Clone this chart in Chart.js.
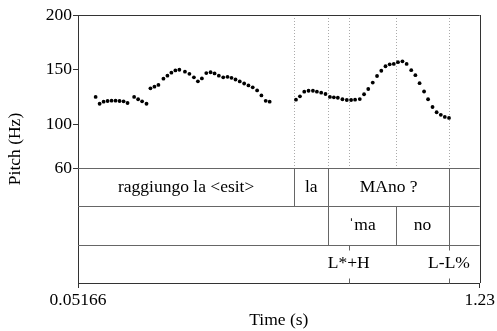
<!DOCTYPE html>
<html>
<head>
<meta charset="utf-8">
<script src="https://cdn.jsdelivr.net/npm/chart.js@4.4.0/dist/chart.umd.min.js"></script>
<style>
  html, body { margin: 0; padding: 0; background: #fff; }
</style>
</head>
<body>
<canvas id="pitchChart" width="497" height="331"></canvas>
<script>
// axes
const timeRange = [0.05166, 1.23];
const timeTicks = [0.05166, 1.23];
const timeTickLabels = ['0.05166', '1.23'];
const pitchRange = [60, 200];
const pitchTicks = [60, 100, 150, 200];

// pitch track (s, Hz)
const pitchTimes = [
  0.1034, 0.1151, 0.1268, 0.1385, 0.1502, 0.1619, 0.1736, 0.1853, 0.1970,
  0.2163, 0.2280, 0.2397, 0.2526, 0.2642, 0.2759, 0.2876, 0.3023, 0.3140,
  0.3256, 0.3373, 0.3490, 0.3654, 0.3785, 0.3917, 0.4034, 0.4151, 0.4280,
  0.4406, 0.4523, 0.4648, 0.4777, 0.4903, 0.5020, 0.5137, 0.5262, 0.5391,
  0.5517, 0.5642, 0.5771, 0.5897, 0.6022, 0.6139,
  0.6911, 0.7028, 0.7154, 0.7280, 0.7408, 0.7525, 0.7651, 0.7777, 0.7906,
  0.8022, 0.8139, 0.8274, 0.8402, 0.8528, 0.8645, 0.8783, 0.8908, 0.9031,
  0.9163, 0.9289, 0.9414, 0.9537, 0.9660, 0.9780, 0.9903, 1.0034, 1.0157,
  1.0292, 1.0414, 1.0537, 1.0669, 1.0786, 1.0917, 1.1037, 1.1160, 1.1277,
  1.1400
];
const pitchHz = [
  125.0, 118.8, 120.7, 121.3, 121.6, 121.6, 121.3, 121.0, 119.5,
  125.0, 122.9, 121.0, 118.8, 132.9, 134.4, 136.0, 141.7, 144.5,
  147.2, 149.3, 149.9, 148.1, 146.2, 143.0, 139.3, 142.0, 146.9,
  147.6, 146.5, 144.5, 143.0, 143.4, 142.5, 141.0, 139.2, 137.3,
  135.6, 133.8, 131.0, 126.4, 121.5, 120.7,
  122.5, 125.6, 129.8, 130.7, 130.7, 129.8, 128.9, 127.7, 125.0,
  124.7, 124.3, 122.9, 122.2, 122.2, 122.5, 123.1, 127.5, 132.3,
  138.2, 144.2, 149.0, 153.1, 154.9, 155.2, 156.8, 157.6, 155.2,
  149.5, 144.9, 137.6, 130.0, 122.9, 115.8, 111.0, 108.7, 106.7,
  105.8
];

// text grid tiers
const wordBounds = [0.05166, 0.686, 0.786, 1.140, 1.23];
const wordLabels = ['raggiungo la <esit>', 'la', 'MAno ?', ''];
const syllBounds = [0.05166, 0.786, 0.984, 1.140, 1.23];
const syllLabels = ['', 'ˈma', 'no', ''];
const toneTimes = [0.846, 1.140];
const toneLabels = ['L*+H', 'L-L%'];

const FONT = 'Liberation Serif, Times New Roman, serif';
const fontSpec = { family: FONT, size: 17.5 };

function hline(ctx, x1, x2, y) {
  ctx.beginPath(); ctx.moveTo(x1, y); ctx.lineTo(x2, y); ctx.stroke();
}
function vline(ctx, x, y1, y2) {
  ctx.beginPath(); ctx.moveTo(x, y1); ctx.lineTo(x, y2); ctx.stroke();
}

const tierPlugin = {
  id: 'tiers',
  beforeDatasetsDraw(chart) {
    const { ctx, chartArea: a, scales } = chart;
    const x = scales.x, y = scales.y, tier = scales.tier;
    const px = t => Math.round(x.getPixelForValue(t)) + 0.5;
    const py = v => Math.round(tier.getPixelForValue(v)) + 0.5;
    ctx.save();

    // dotted boundary marks in the pitch area
    const marks = [...new Set([...wordBounds.slice(1, -1), ...syllBounds.slice(1, -1), ...toneTimes])];
    ctx.strokeStyle = '#aaa';
    ctx.lineWidth = 1;
    ctx.setLineDash([1, 2]);
    marks.forEach(t => vline(ctx, px(t), a.top, y.bottom));
    ctx.setLineDash([]);

    // tier separators
    ctx.strokeStyle = '#666';
    [0, 1, 2].forEach(v => hline(ctx, a.left, a.right, py(v)));

    // interval boundaries
    wordBounds.slice(1, -1).forEach(t => vline(ctx, px(t), py(0), py(1)));
    syllBounds.slice(1, -1).forEach(t => vline(ctx, px(t), py(1), py(2)));
    // point tier ticks
    toneTimes.forEach(t => {
      vline(ctx, px(t), py(2), py(2) + 5);
      vline(ctx, px(t), py(3) - 5, py(3));
    });

    // labels
    ctx.fillStyle = '#000';
    ctx.font = `${fontSpec.size}px ${FONT}`;
    ctx.textAlign = 'center';
    ctx.textBaseline = 'middle';
    const mid = (b, i) => x.getPixelForValue((b[i] + b[i + 1]) / 2);
    wordLabels.forEach((s, i) => s && ctx.fillText(s, mid(wordBounds, i), tier.getPixelForValue(0.5)));
    syllLabels.forEach((s, i) => s && ctx.fillText(s, mid(syllBounds, i), tier.getPixelForValue(1.5)));
    toneLabels.forEach((s, i) => ctx.fillText(s, x.getPixelForValue(toneTimes[i]), tier.getPixelForValue(2.5)));
    ctx.restore();
  },
  afterDraw(chart) {
    const { ctx, chartArea: a } = chart;
    ctx.save();
    // top and right frame
    ctx.strokeStyle = '#333';
    ctx.lineWidth = 1;
    hline(ctx, a.left, a.right, Math.round(a.top) + 0.5);
    vline(ctx, Math.round(a.right) + 0.5, a.top, a.bottom);
    // y title over the whole height
    ctx.fillStyle = '#000';
    ctx.font = `${fontSpec.size}px ${FONT}`;
    ctx.textAlign = 'center';
    ctx.textBaseline = 'middle';
    ctx.translate(15, (a.top + a.bottom) / 2);
    ctx.rotate(-Math.PI / 2);
    ctx.fillText('Pitch (Hz)', 0, 0);
    ctx.restore();
  }
};

const ctx = document.getElementById('pitchChart').getContext('2d');
const pitchChart = new Chart(ctx, {
  type: 'scatter',
  data: {
    datasets: [{
      label: 'Pitch',
      data: pitchTimes.map((t, i) => ({ x: t, y: pitchHz[i] })),
      backgroundColor: '#000',
      borderColor: '#000',
      pointRadius: 1.9,
      pointBorderWidth: 0,
      xAxisID: 'x',
      yAxisID: 'y'
    }]
  },
  options: {
    responsive: false,
    animation: false,
    layout: { padding: { top: 15, right: 16, left: 0, bottom: 0 } },
    plugins: { legend: { display: false }, tooltip: { enabled: false } },
    scales: {
      x: {
        type: 'linear',
        position: 'bottom',
        min: timeRange[0],
        max: timeRange[1],
        afterBuildTicks: s => { s.ticks = timeTicks.map(v => ({ value: v })); },
        afterFit: s => { s.height = 48; },
        ticks: {
          callback: (v, i) => timeTickLabels[i],
          autoSkip: false,
          maxRotation: 0,
          color: '#000',
          padding: 2,
          font: fontSpec
        },
        grid: { drawOnChartArea: false, tickLength: 5, color: '#333' },
        border: { color: '#333' },
        title: { display: true, text: 'Time (s)', color: '#000', font: fontSpec, padding: { top: 0, bottom: 0 } }
      },
      y: {
        type: 'linear',
        position: 'left',
        stack: 'v',
        stackWeight: 153,
        weight: 1,
        min: pitchRange[0],
        max: pitchRange[1],
        afterBuildTicks: s => { s.ticks = pitchTicks.map(v => ({ value: v })); },
        afterFit: s => { s.width = 78; },
        ticks: { color: '#000', padding: 1, font: fontSpec },
        grid: { drawOnChartArea: false, tickLength: 5, color: '#333' },
        border: { color: '#333' }
      },
      tier: {
        type: 'linear',
        position: 'left',
        stack: 'v',
        stackWeight: 115,
        weight: 0,
        min: 0,
        max: 3,
        reverse: true,
        afterFit: s => { s.width = 78; },
        ticks: { display: false },
        grid: { display: false, drawTicks: false },
        border: { display: true, color: '#333' }
      }
    }
  },
  plugins: [tierPlugin]
});
</script>
</body>
</html>
